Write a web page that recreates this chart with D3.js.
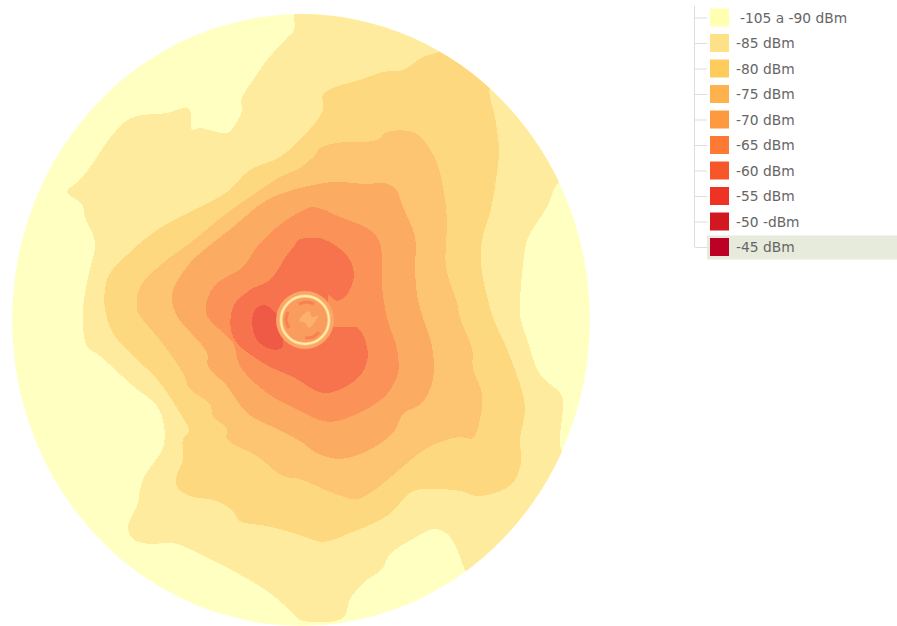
<!DOCTYPE html>
<html>
<head>
<meta charset="utf-8">
<script src="https://cdn.jsdelivr.net/npm/d3@7/dist/d3.min.js"></script>
<style>
html,body{margin:0;padding:0;background:#fff;overflow:hidden}
svg{display:block}
</style>
</head>
<body>
<svg id="chart" width="897" height="626"></svg>
<script>
// Legend
const legendLabels = ["-105 a -90 dBm","-85 dBm","-80 dBm","-75 dBm","-70 dBm","-65 dBm","-60 dBm","-55 dBm","-50 -dBm","-45 dBm"];
const legendColors = ["#ffffb2","#fee187","#fecc5c","#fdb24c","#fd9a3f","#fc7a33","#f7562b","#ee3224","#d1171f","#bd0026"];
const mapColors = ["#ffffc1","#feeb9e","#fed87f","#fdc471","#fcab62","#fb9358","#f6734d","#ef5a47"];
const highlightedLabel = "-45 dBm";

// Coverage area half-widths (metres east / north of the site)
const coverageEast = 289;
const coverageNorth = 306;

// Contours, as [east, north] in metres from the site
const contour85 = [[-7,306],[-7,290],[-14,282],[-34,260],[-48,240],[-60,220],[-59,210],[-66,195],[-74,187],[-88,189],[-101,192],[-109,190],[-111,210],[-116,212],[-134,207],[-164,204],[-176,198],[-191,182],[-208,157],[-221,140],[-234,128],[-219,116],[-216,103],[-206,78],[-213,43],[-218,13],[-218,-6],[-214,-26],[-201,-36],[-168,-66],[-144,-86],[-137,-106],[-138,-128],[-158,-159],[-164,-186],[-173,-206],[-168,-219],[-151,-224],[-128,-223],[-101,-234],[-64,-253],[-34,-271],[-8,-293],[-1,-300],[42,-298],[49,-279],[62,-263],[81,-249],[89,-234],[112,-219],[132,-209],[146,-214],[156,-229],[165,-252],[190,-290],[300,-220],[300,-140],[262,-133],[261,-76],[249,-64],[237,-51],[226,-19],[219,4],[219,20],[223,63],[227,82],[246,113],[257,137],[300,170],[300,320],[100,330],[-7,330]];
const contour80 = [[137,268],[170,290],[215,260],[189,232],[194,203],[198,170],[196,147],[189,107],[181,80],[181,47],[187,20],[192,2],[206,-29],[221,-71],[224,-91],[219,-119],[220,-143],[212,-163],[199,-171],[176,-176],[159,-171],[132,-169],[112,-171],[99,-183],[86,-196],[49,-213],[22,-222],[-1,-215],[-34,-206],[-61,-201],[-68,-191],[-84,-181],[-111,-176],[-123,-168],[-125,-159],[-118,-139],[-118,-119],[-112,-111],[-121,-93],[-144,-59],[-168,-36],[-188,-13],[-196,10],[-193,43],[-174,65],[-144,90],[-101,113],[-74,128],[-51,150],[-21,163],[-1,180],[14,197],[22,210],[22,225],[32,232],[59,240],[82,248],[102,250],[122,263]];
const contour75 = [[-1,152],[14,165],[19,172],[36,177],[76,180],[86,188],[112,188],[124,178],[136,157],[142,133],[146,100],[145,53],[156,17],[159,2],[171,-29],[172,-49],[181,-74],[179,-99],[172,-118],[159,-117],[142,-121],[126,-128],[99,-149],[79,-166],[56,-179],[32,-173],[-1,-159],[-18,-156],[-44,-136],[-74,-119],[-74,-109],[-88,-96],[-91,-84],[-111,-69],[-118,-53],[-138,-24],[-161,4],[-164,10],[-161,33],[-138,57],[-111,77],[-74,107],[-51,123],[-21,143]];
const contour70 = [[-1,132],[32,138],[66,136],[82,137],[94,132],[102,113],[114,83],[114,47],[117,20],[122,2],[131,-26],[132,-59],[121,-83],[102,-94],[92,-113],[66,-131],[39,-139],[16,-133],[-1,-121],[-24,-109],[-54,-93],[-74,-66],[-93,-46],[-94,-33],[-124,4],[-129,20],[-128,30],[-111,57],[-68,93],[-34,120],[-8,130]];
const contour65 = [[-1,108],[12,113],[39,103],[69,90],[79,77],[81,33],[86,2],[96,-29],[97,-53],[86,-74],[66,-89],[36,-101],[22,-101],[-1,-91],[-34,-73],[-61,-46],[-68,-23],[-94,4],[-94,20],[-85,36],[-58,53],[-44,73],[-24,93]];
const contour60 = [[-3,80],[22,81],[47,63],[53,47],[47,27],[36,19],[27,25],[29,10],[32,-6],[42,-7],[57,-8],[67,-33],[61,-53],[44,-67],[22,-73],[-8,-57],[-38,-43],[-68,-17],[-68,13],[-51,30],[-31,40],[-14,65],[-6,75]];
const contour55 = [[-38,15],[-26,8],[-19,-10],[-19,-28],[-31,-29],[-44,-20],[-49,-3],[-46,10]];

// Near-field ring around the antenna
const ringCentre = [4,0];
const ringRadius = 24;
const haloRadius = 29;
const innerArcs = [
  [[-6,16],[2,18],[9,16]],
  [[-17,8],[-19,0],[-16,-8]],
  [[0,-18],[8,-17],[14,-12]]
];
const innerBlob = [[-3,4],[4,9],[7,3],[13,4],[9,-3],[4,-8],[0,-3],[-6,-1]];

const svg = d3.select("#chart");
const x = d3.scaleLinear().domain([-coverageEast, coverageEast]).range([12, 590]);
const y = d3.scaleLinear().domain([-coverageNorth, coverageNorth]).range([626, 14]);

svg.append("clipPath").attr("id","cov").append("ellipse")
  .attr("cx", x(0)).attr("cy", y(0))
  .attr("rx", x(coverageEast)-x(0)).attr("ry", y(0)-y(coverageNorth));

const map = svg.append("g").attr("clip-path","url(#cov)");
map.append("ellipse")
  .attr("cx", x(0)).attr("cy", y(0))
  .attr("rx", x(coverageEast)-x(0)).attr("ry", y(0)-y(coverageNorth))
  .attr("fill", mapColors[0]);

const line = d3.line().x(d=>x(d[0])).y(d=>y(d[1])).curve(d3.curveCatmullRomClosed.alpha(0.5));
const bands = [contour85,contour80,contour75,contour70,contour65,contour60,contour55];
map.selectAll("path.band").data(bands).join("path")
  .attr("class","band")
  .attr("d", line)
  .attr("fill",(d,i)=>mapColors[i+1])
  .attr("shape-rendering","crispEdges");

// ring
const ring = svg.append("g");
const addCircle = (r,attrs) => {
  const c = ring.append("circle").attr("cx",x(ringCentre[0])).attr("cy",y(ringCentre[1])).attr("r",r);
  Object.entries(attrs).forEach(([k,v])=>c.attr(k,v));
};
addCircle(haloRadius,{fill:"#fba566"});
addCircle(ringRadius,{fill:"#fa9c5e",stroke:"#fdc27a","stroke-width":3.5});
addCircle(ringRadius,{fill:"none",stroke:"#ffeeb0","stroke-width":1.8});
const openLine = d3.line().x(d=>x(d[0]+ringCentre[0])).y(d=>y(d[1]+ringCentre[1])).curve(d3.curveCatmullRom);
ring.selectAll("path.arc").data(innerArcs).join("path").attr("class","arc")
  .attr("d",openLine).attr("fill","none").attr("stroke","#f6824f").attr("stroke-width",3);
ring.append("path").datum(innerBlob)
  .attr("d",d3.line().x(d=>x(d[0]+ringCentre[0])).y(d=>y(d[1]+ringCentre[1])).curve(d3.curveCatmullRomClosed))
  .attr("fill","#fbb06c");

// legend
const legendY = d3.scalePoint().domain(legendLabels).range([17.5,247]);
const legend = svg.append("g");
legend.append("rect").attr("x",707).attr("y",legendY(highlightedLabel)-11.5).attr("width",190).attr("height",24).attr("fill","#e6ebdc");
legend.append("line").attr("x1",694.5).attr("x2",694.5).attr("y1",6).attr("y2",legendY(highlightedLabel)).attr("stroke","#ddd").attr("stroke-width",1);
const rows = legend.selectAll("g.row").data(legendLabels).join("g").attr("class","row")
  .attr("transform",d=>`translate(0,${legendY(d)})`);
rows.append("line").attr("x1",695).attr("x2",707).attr("y1",0.5).attr("y2",0.5).attr("stroke","#ddd");
rows.append("rect").attr("x",710).attr("y",-9).attr("width",19).attr("height",18).attr("fill",(d,i)=>legendColors[i]);
rows.append("text").attr("x",(d,i)=>i===0?740:736).attr("y",5)
  .attr("font-family","'DejaVu Sans',sans-serif").attr("font-size",13.8).attr("fill","#666").text(d=>d);
</script>
</body>
</html>
